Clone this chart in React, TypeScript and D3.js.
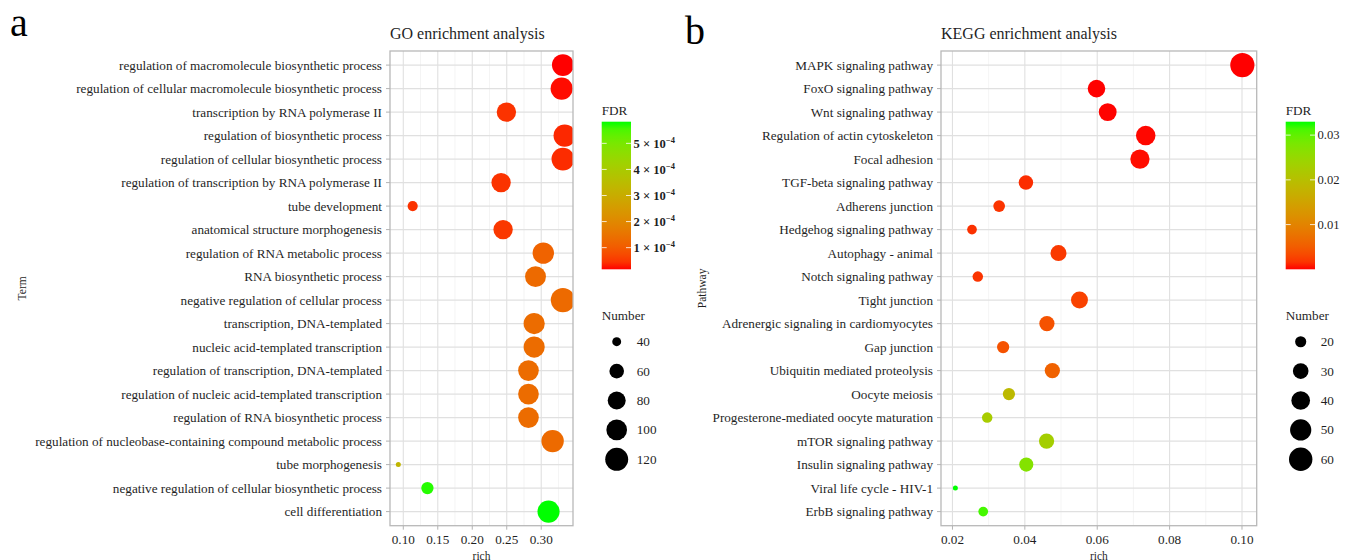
import React from "react";
import * as d3 from "d3";

// ---------------- DATA ----------------
const goTerms = [
  "regulation of macromolecule biosynthetic process",
  "regulation of cellular macromolecule biosynthetic process",
  "transcription by RNA polymerase II",
  "regulation of biosynthetic process",
  "regulation of cellular biosynthetic process",
  "regulation of transcription by RNA polymerase II",
  "tube development",
  "anatomical structure morphogenesis",
  "regulation of RNA metabolic process",
  "RNA biosynthetic process",
  "negative regulation of cellular process",
  "transcription, DNA-templated",
  "nucleic acid-templated transcription",
  "regulation of transcription, DNA-templated",
  "regulation of nucleic acid-templated transcription",
  "regulation of RNA biosynthetic process",
  "regulation of nucleobase-containing compound metabolic process",
  "tube morphogenesis",
  "negative regulation of cellular biosynthetic process",
  "cell differentiation",
];
const goRich = [0.3314, 0.3296, 0.2495, 0.334, 0.3314, 0.2418, 0.1136, 0.2447, 0.303, 0.2917,
  0.3314, 0.2898, 0.2898, 0.2815, 0.2815, 0.2815, 0.3165, 0.0928, 0.135, 0.3106];
const goCount = [110, 112, 90, 114, 118, 90, 43, 90, 106, 102, 132, 104, 104, 100, 100, 100, 115, 36, 50, 112];
const goFDR = [1.7e-5, 2.0e-5, 4.5e-5, 3.5e-5, 3.8e-5, 4.5e-5, 4.5e-5, 5.0e-5, 1.15e-4, 1.3e-4,
  1.3e-4, 1.35e-4, 1.35e-4, 1.35e-4, 1.35e-4, 1.35e-4, 1.3e-4, 3.3e-4, 5.75e-4, 5.83e-4];
const goSizeBreaks = [40, 60, 80, 100, 120];
const goFdrBreaks = [1, 2, 3, 4, 5]; // × 10^-4

const keggTerms = [
  "MAPK signaling pathway",
  "FoxO signaling pathway",
  "Wnt signaling pathway",
  "Regulation of actin cytoskeleton",
  "Focal adhesion",
  "TGF-beta signaling pathway",
  "Adherens junction",
  "Hedgehog signaling pathway",
  "Autophagy - animal",
  "Notch signaling pathway",
  "Tight junction",
  "Adrenergic signaling in cardiomyocytes",
  "Gap junction",
  "Ubiquitin mediated proteolysis",
  "Oocyte meiosis",
  "Progesterone-mediated oocyte maturation",
  "mTOR signaling pathway",
  "Insulin signaling pathway",
  "Viral life cycle - HIV-1",
  "ErbB signaling pathway",
];
const keggRich = [0.1001, 0.0598, 0.0629, 0.0734, 0.0718, 0.0403, 0.0329, 0.0254, 0.0493, 0.027,
  0.0551, 0.0461, 0.034, 0.0476, 0.0356, 0.0296, 0.046, 0.0404, 0.0208, 0.0285];
const keggCount = [64, 36, 37, 43, 42, 27, 21, 18, 31, 19, 34, 29, 22, 29, 22, 19, 29, 26, 15, 18];
const keggFDR = [2e-7, 1e-5, 5e-5, 1e-4, 2e-4, 1.3e-3, 1.7e-3, 1.5e-3, 2.0e-3, 1.7e-3,
  2.6e-3, 4.0e-3, 4.0e-3, 5.6e-3, 1.9e-2, 2.25e-2, 2.3e-2, 2.7e-2, 3.3e-2, 3.15e-2];
const keggSizeBreaks = [20, 30, 40, 50, 60];
const keggFdrBreaks = [0.01, 0.02, 0.03];

// ---------------- STYLE ----------------
const FONT = "'Liberation Serif', 'Times New Roman', serif";
const TXT = "#1f1f1f";
const R_MIN = 2.5;
const R_MAX = 12.1;
const TOP = 51;
const BOTTOM = 525.7;
const BAR_TOP = 121.7;
const BAR_BOTTOM = 269.3;

const colorInterp = d3.interpolateLab("#ff0000", "#00ff00");

type PanelProps = {
  id: string;
  title: string;
  yTitle: string;
  yTitleX: number;
  terms: string[];
  rich: number[];
  count: number[];
  fdr: number[];
  left: number;
  right: number;
  xTicks: number[];
  xMinor: number[];
  xFmt: (v: number) => string;
  legendX: number;
  sizeBreaks: number[];
  fdrBreaks: number[];
  fdrLabel: (v: number) => React.ReactNode;
  fdrValue: (v: number) => number;
  barW: number;
};

function Panel(p: PanelProps) {
  const ext = d3.extent(p.rich) as [number, number];
  const pad = (ext[1] - ext[0]) * 0.05;
  const x = d3.scaleLinear().domain([ext[0] - pad, ext[1] + pad]).range([p.left, p.right]);
  const y = d3.scalePoint<string>().domain(p.terms).range([TOP, BOTTOM]).padding(0.6);
  const cExt = d3.extent(p.count) as [number, number];
  const rs = d3.scaleSqrt().domain([0, cExt[1] - cExt[0]]).range([0, R_MAX - R_MIN]);
  const r = (n: number) => R_MIN + rs(Math.max(0, n - cExt[0]));
  const fExt = d3.extent(p.fdr) as [number, number];
  const cNorm = d3.scaleLinear().domain(fExt).range([0, 1]).clamp(true);
  const col = (f: number) => colorInterp(cNorm(f));
  const barY = d3.scaleLinear().domain(fExt).range([BAR_BOTTOM, BAR_TOP]);
  const stops = d3.range(0, 1.0001, 0.05);
  const clipId = "clip-" + p.id;
  const gradId = "grad-" + p.id;
  const lx = p.legendX;
  const sizeY = d3.scalePoint<number>().domain(p.sizeBreaks).range([341.7, 459.3]);

  return (
    <g fontFamily={FONT}>
      <defs>
        <clipPath id={clipId}>
          <rect x={p.left} y={TOP} width={p.right - p.left} height={BOTTOM - TOP} />
        </clipPath>
        <linearGradient id={gradId} x1="0" y1="1" x2="0" y2="0">
          {stops.map((s) => (
            <stop key={s} offset={s} stopColor={colorInterp(s)} />
          ))}
        </linearGradient>
      </defs>
      <text x={p.left} y={39} fontSize={16} fill={TXT}>{p.title}</text>
      {/* panel background grid */}
      <rect x={p.left} y={TOP} width={p.right - p.left} height={BOTTOM - TOP} fill="#fff" />
      {p.xMinor.map((v) => (
        <line key={"mn" + v} x1={x(v)} x2={x(v)} y1={TOP} y2={BOTTOM} stroke="#ececec" strokeWidth={0.6} />
      ))}
      {p.xTicks.map((v) => (
        <line key={"mj" + v} x1={x(v)} x2={x(v)} y1={TOP} y2={BOTTOM} stroke="#e0e0e0" strokeWidth={1.1} />
      ))}
      {p.terms.map((t) => (
        <line key={"h" + t} x1={p.left} x2={p.right} y1={y(t)} y2={y(t)} stroke="#e0e0e0" strokeWidth={1.1} />
      ))}
      <g clipPath={`url(#${clipId})`}>
        {p.terms.map((t, i) => (
          <circle key={"c" + t} cx={x(p.rich[i])} cy={y(t)!} r={r(p.count[i])} fill={col(p.fdr[i])} />
        ))}
      </g>
      <rect x={p.left} y={TOP} width={p.right - p.left} height={BOTTOM - TOP} fill="none" stroke="#b8b8b8" strokeWidth={1.3} />
      {/* y axis */}
      {p.terms.map((t) => (
        <g key={"yl" + t}>
          <line x1={p.left - 4} x2={p.left} y1={y(t)} y2={y(t)} stroke="#b3b3b3" strokeWidth={1} />
          <text x={p.left - 8} y={y(t)! + 4.4} fontSize={13.2} textAnchor="end" fill={TXT}>{t}</text>
        </g>
      ))}
      {/* x axis */}
      {p.xTicks.map((v) => (
        <g key={"xl" + v}>
          <line x1={x(v)} x2={x(v)} y1={BOTTOM} y2={BOTTOM + 4} stroke="#b3b3b3" strokeWidth={1} />
          <text x={x(v)} y={543.8} fontSize={13.2} textAnchor="middle" fill={TXT}>{p.xFmt(v)}</text>
        </g>
      ))}
      <text x={(p.left + p.right) / 2} y={559.5} fontSize={11.5} textAnchor="middle" fill={TXT}>rich</text>
      <text transform={`translate(${p.yTitleX},${(TOP + BOTTOM) / 2}) rotate(-90)`} fontSize={11.5} textAnchor="middle" fill={TXT}>
        {p.yTitle}
      </text>
      {/* FDR legend */}
      <text x={lx} y={114.5} fontSize={13.2} fill={TXT}>FDR</text>
      <rect x={lx} y={BAR_TOP} width={p.barW} height={BAR_BOTTOM - BAR_TOP} fill={`url(#${gradId})`} />
      {p.fdrBreaks.map((b) => {
        const yy = barY(p.fdrValue(b));
        return (
          <g key={"fb" + b}>
            <line x1={lx} x2={lx + 5} y1={yy} y2={yy} stroke="#fff" strokeWidth={0.8} />
            <line x1={lx + p.barW - 5} x2={lx + p.barW} y1={yy} y2={yy} stroke="#fff" strokeWidth={0.8} />
            <text x={lx + p.barW + 2.5} y={yy + 4.3} fontSize={12.6} fill={TXT}>{p.fdrLabel(b)}</text>
          </g>
        );
      })}
      {/* Size legend */}
      <text x={lx} y={319.5} fontSize={13.2} fill={TXT}>Number</text>
      {p.sizeBreaks.map((b) => (
        <g key={"sb" + b}>
          <circle cx={lx + 15} cy={sizeY(b)!} r={r(b)} fill="#000" />
          <text x={lx + 35} y={sizeY(b)! + 4.4} fontSize={13.2} fill={TXT}>{b}</text>
        </g>
      ))}
    </g>
  );
}

export default function App() {
  const fmt2 = d3.format(".2f");
  return (
    <svg width={1346} height={560} style={{ position: "absolute", left: 0, top: 0, background: "#fff" }}>
      <rect width={1346} height={560} fill="#fff" />
      <text x={10} y={36} fontSize={40} fontFamily={FONT} fill="#000">a</text>
      <text x={685} y={44} fontSize={40} fontFamily={FONT} fill="#000">b</text>
      <Panel
        id="go"
        title="GO enrichment analysis"
        yTitle="Term"
        yTitleX={26}
        terms={goTerms}
        rich={goRich}
        count={goCount}
        fdr={goFDR}
        left={390}
        right={573}
        xTicks={[0.1, 0.15, 0.2, 0.25, 0.3]}
        xMinor={[0.125, 0.175, 0.225, 0.275, 0.325]}
        xFmt={fmt2}
        legendX={601.7}
        sizeBreaks={goSizeBreaks}
        fdrBreaks={goFdrBreaks}
        fdrValue={(v) => v * 1e-4}
        fdrLabel={(v) => (
          <>
            <tspan fontWeight="bold">{`${v} × 10`}</tspan>
            <tspan dy={-5} fontSize={8.5} fontWeight="bold">−4</tspan>
          </>
        )}
        barW={29.3}
      />
      <Panel
        id="kegg"
        title="KEGG enrichment analysis"
        yTitle="Pathway"
        yTitleX={706}
        terms={keggTerms}
        rich={keggRich}
        count={keggCount}
        fdr={keggFDR}
        left={941}
        right={1256.7}
        xTicks={[0.02, 0.04, 0.06, 0.08, 0.1]}
        xMinor={[0.03, 0.05, 0.07, 0.09]}
        xFmt={fmt2}
        legendX={1285.7}
        sizeBreaks={keggSizeBreaks}
        fdrBreaks={keggFdrBreaks}
        fdrValue={(v) => v}
        fdrLabel={(v) => d3.format(".2f")(v)}
        barW={29.3}
      />
    </svg>
  );
}
